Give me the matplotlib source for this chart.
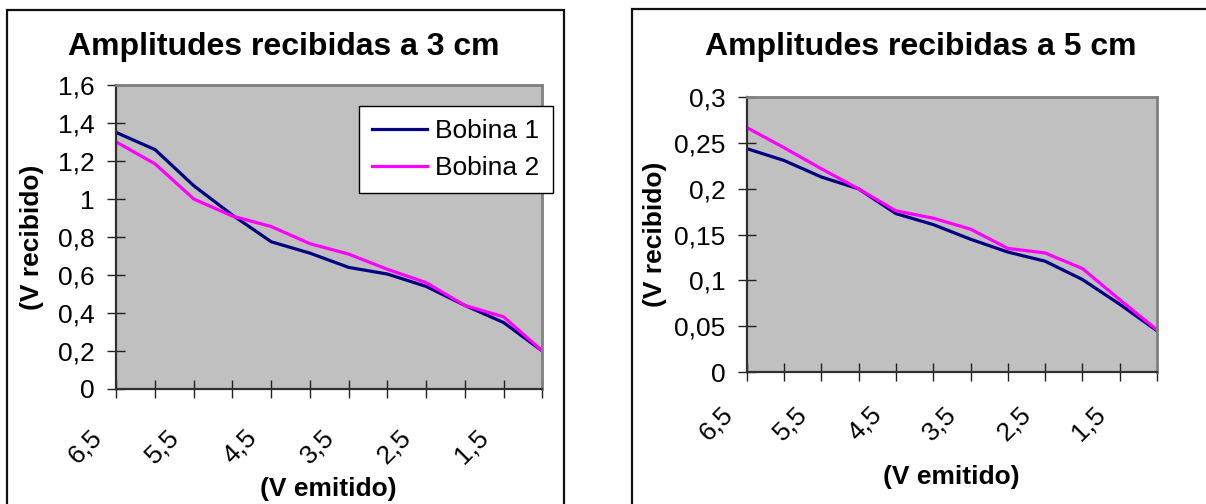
import matplotlib
matplotlib.use("Agg")
import matplotlib.pyplot as plt
from matplotlib.patches import Rectangle
from matplotlib.transforms import ScaledTranslation

# ---- data ----
v_emitido = ["6,5", "6", "5,5", "5", "4,5", "4", "3,5", "3", "2,5", "2", "1,5", "1"]
shown_labels = ["6,5", "", "5,5", "", "4,5", "", "3,5", "", "2,5", "", "1,5", ""]

b1_3cm = [1.35, 1.26, 1.07, 0.915, 0.775, 0.715, 0.64, 0.605, 0.54, 0.44, 0.35, 0.20]
b2_3cm = [1.30, 1.185, 1.00, 0.91, 0.855, 0.765, 0.71, 0.63, 0.56, 0.44, 0.38, 0.20]

b1_5cm = [0.244, 0.231, 0.213, 0.200, 0.173, 0.161, 0.145, 0.131, 0.121, 0.101, 0.074, 0.045]
b2_5cm = [0.267, 0.245, 0.222, 0.200, 0.176, 0.168, 0.156, 0.135, 0.130, 0.113, 0.079, 0.046]

yticks_3 = [0, 0.2, 0.4, 0.6, 0.8, 1.0, 1.2, 1.4, 1.6]
ylabels_3 = ["0", "0,2", "0,4", "0,6", "0,8", "1", "1,2", "1,4", "1,6"]
yticks_5 = [0, 0.05, 0.1, 0.15, 0.2, 0.25, 0.3]
ylabels_5 = ["0", "0,05", "0,1", "0,15", "0,2", "0,25", "0,3"]

plt.rcParams['font.family'] = ['Liberation Sans', 'DejaVu Sans']

W, H = 1206, 504
fig = plt.figure(figsize=(W / 100, H / 100), dpi=100)


def px_rect(x0, y0, x1, y1):
    return [x0 / W, 1 - y1 / H, (x1 - x0) / W, (y1 - y0) / H]


# panel borders
for (x0, y0, x1, y1) in [(7, 10, 564, 512), (632, 9, 1214, 512)]:
    fig.add_artist(Rectangle((x0 / W, 1 - y1 / H), (x1 - x0) / W, (y1 - y0) / H,
                             transform=fig.transFigure, fill=False,
                             ec='#111111', lw=1.6, clip_on=False))

FS = 19
C1 = '#000080'
C2 = '#FF00FF'


def style_axes(ax, yt, yl, ymax, xpad, xdx, title, tx, ty, xlab_xy, ylab_x):
    ax.set_facecolor('#C0C0C0')
    x = list(range(len(v_emitido)))
    ax.set_xlim(0, len(v_emitido) - 1)
    ax.set_ylim(0, ymax)
    for s in ['top', 'right']:
        ax.spines[s].set_color('#808080')
        ax.spines[s].set_linewidth(2.0)
    for s in ['left', 'bottom']:
        ax.spines[s].set_color('#303030')
        ax.spines[s].set_linewidth(1.6)
    ax.set_yticks(yt)
    ax.set_yticklabels(yl, fontsize=FS)
    ax.set_xticks(x)
    ax.set_xticklabels(shown_labels, fontsize=FS, rotation=45, ha='right',
                       va='center', rotation_mode='anchor')
    ax.tick_params(axis='both', direction='inout', length=13.5, width=1.0,
                   color='#202020')
    ax.tick_params(axis='y', pad=8.5)
    ax.tick_params(axis='x', pad=xpad)
    off = ScaledTranslation(xdx / 100, 0, fig.dpi_scale_trans)
    for lab in ax.get_xticklabels():
        lab.set_transform(lab.get_transform() + off)
    ax.set_title(title, fontsize=23, fontweight='bold', x=tx, y=ty, pad=0)
    ax.set_xlabel('(V emitido)', fontsize=FS, fontweight='bold', va='center')
    ax.xaxis.set_label_coords(*xlab_xy)
    ax.set_ylabel('(V recibido)', fontsize=FS, fontweight='bold', va='center')
    ax.yaxis.set_label_coords(ylab_x, 0.5)


# left chart
ax1 = fig.add_axes(px_rect(116.3, 85, 542.3, 389))
xs = list(range(len(v_emitido)))
ax1.plot(xs, b1_3cm, color=C1, lw=2.3, label='Bobina 1', solid_joinstyle='round')
ax1.plot(xs, b2_3cm, color=C2, lw=2.3, label='Bobina 2', solid_joinstyle='round')
style_axes(ax1, yticks_3, ylabels_3, 1.6, 25.5, -18.7,
           'Amplitudes recibidas a 3 cm', (284 - 116.3) / 426, (389 - 55) / 304,
           (0.498, (389 - 489) / 304), (31.5 - 116.3) / 426)
leg = ax1.legend(loc='upper right',
                 bbox_to_anchor=((552.7 - 116.3) / 426, 1 - (105.7 - 85) / 304),
                 borderaxespad=0, fontsize=FS, frameon=True, fancybox=False,
                 edgecolor='#000000', framealpha=1, handlelength=2.1,
                 handletextpad=0.3, labelspacing=0.5, borderpad=0.5)
leg.get_frame().set_linewidth(1.0)

# right chart
ax2 = fig.add_axes(px_rect(746.7, 97.3, 1157, 372))
ax2.plot(xs, b1_5cm, color=C1, lw=2.3, solid_joinstyle='round')
ax2.plot(xs, b2_5cm, color=C2, lw=2.3, solid_joinstyle='round')
style_axes(ax2, yticks_5, ylabels_5, 0.3, 21, -18,
           'Amplitudes recibidas a 5 cm', (920.8 - 746.7) / 410.3, (372 - 55) / 274.7,
           (0.498, (372 - 476.7) / 274.7), (655 - 746.7) / 410.3)

fig.savefig('out.png', dpi=100)
